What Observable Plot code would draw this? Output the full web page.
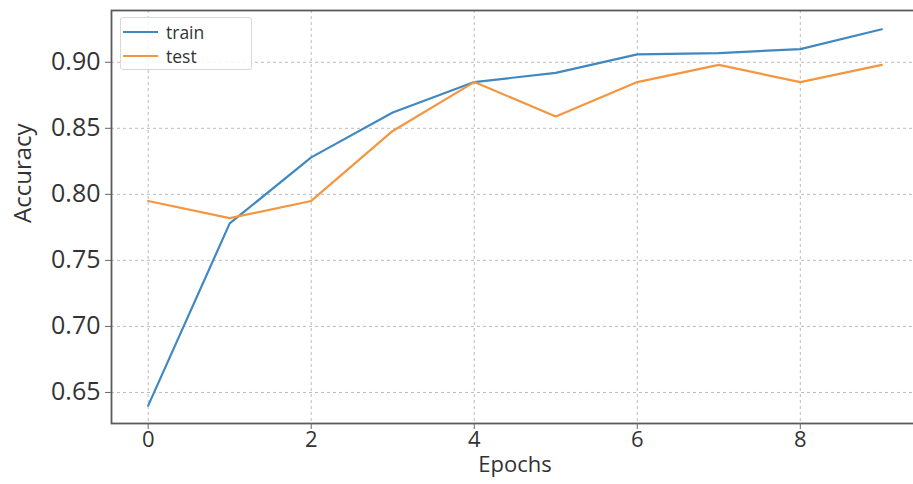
<!DOCTYPE html>
<html>
<head>
<meta charset="utf-8">
<script src="https://cdn.jsdelivr.net/npm/d3@7"></script>
<script src="https://cdn.jsdelivr.net/npm/@observablehq/plot@0.6"></script>
<style>
  html, body { margin: 0; padding: 0; background: #fff; overflow: hidden; }
  #wrap { position: relative; width: 913px; height: 484px; }
  #legend {
    position: absolute; left: 120px; top: 17px; width: 132px; height: 53px;
    border: 1px solid #d8d8d8; border-radius: 3px; background: rgba(255,255,255,0.85);
    font-family: "Open Sans", sans-serif; font-size: 17.5px; color: #333; box-sizing: border-box;
  }
  #legend .row { position: absolute; left: 2px; height: 24px; line-height: 24px; display: flex; align-items: center; }
  #legend .sw { width: 35px; height: 2px; margin-right: 8px; }
</style>
</head>
<body>
<div id="wrap"></div>
<script>
const epochs = [0, 1, 2, 3, 4, 5, 6, 7, 8, 9];
const trainAcc = [0.640, 0.778, 0.828, 0.862, 0.885, 0.892, 0.906, 0.907, 0.910, 0.925];
const testAcc  = [0.795, 0.782, 0.795, 0.848, 0.885, 0.859, 0.885, 0.898, 0.885, 0.898];
const seriesNames = ["train", "test"];
const seriesColors = ["#3f88c2", "#f4963f"];
const xTicks = [0, 2, 4, 6, 8];
const yTicks = [0.65, 0.70, 0.75, 0.80, 0.85, 0.90];

const rows = [];
epochs.forEach((e, i) => {
  rows.push({epoch: e, acc: trainAcc[i], series: "train"});
  rows.push({epoch: e, acc: testAcc[i], series: "test"});
});

const plot = Plot.plot({
  width: 913,
  height: 484,
  marginLeft: 111,
  marginRight: -5,
  marginTop: 10,
  marginBottom: 61,
  style: {fontFamily: "Open Sans, sans-serif", color: "#333", background: "white"},
  x: {domain: [-0.45, 9.45], ticks: xTicks, label: null},
  y: {domain: [0.6265, 0.9392], ticks: yTicks, label: null, tickFormat: d3.format(".2f")},
  color: {domain: seriesNames, range: seriesColors},
  marks: [
    Plot.gridX(xTicks, {stroke: "#bcbcbc", strokeOpacity: 1, strokeDasharray: "3,3"}),
    Plot.gridY(yTicks, {stroke: "#bcbcbc", strokeOpacity: 1, strokeDasharray: "3,3"}),
    Plot.line(rows, {x: "epoch", y: "acc", z: "series", stroke: "series", strokeWidth: 2.2}),
    Plot.frame({stroke: "#5a5a5a", strokeWidth: 1.8}),
    Plot.axisX(xTicks, {fontSize: 22, tickSize: 6, tickPadding: 2, stroke: "#666", label: null}),
    Plot.axisY(yTicks, {fontSize: 25, tickSize: 6, tickPadding: 5, stroke: "#666", label: null, tickFormat: d3.format(".2f")}),
    Plot.text(["Accuracy"], {frameAnchor: "left", dx: -88, dy: 6, rotate: -90, fontSize: 24, fill: "#333"}),
    Plot.text(["Epochs"], {frameAnchor: "bottom", dy: 48, fontSize: 22, fill: "#333"})
  ]
});

const wrap = document.getElementById("wrap");
wrap.appendChild(plot);

const legend = document.createElement("div");
legend.id = "legend";
seriesNames.forEach((name, i) => {
  const row = document.createElement("div");
  row.className = "row";
  row.style.top = (i === 0 ? 2 : 26) + "px";
  const sw = document.createElement("span");
  sw.className = "sw";
  sw.style.background = seriesColors[i];
  const t = document.createElement("span");
  t.textContent = name;
  row.appendChild(sw);
  row.appendChild(t);
  legend.appendChild(row);
});
wrap.appendChild(legend);
</script>
</body>
</html>
